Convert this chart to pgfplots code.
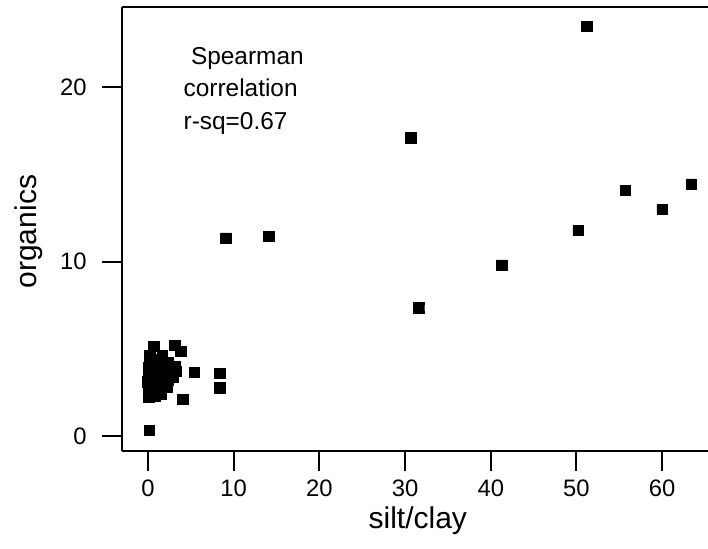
\documentclass[border=0pt]{standalone}
\usepackage{pgfplots}
\pgfplotsset{compat=1.18}
\usepackage{fontspec}
\setmainfont{Liberation Sans}

% filled square with softly rounded corners
\pgfdeclareplotmark{rsquare}{%
  \pgfsetcornersarced{\pgfpoint{1.1pt}{1.1pt}}%
  \pgfpathmoveto{\pgfqpoint{\pgfplotmarksize}{0pt}}%
  \pgfpathlineto{\pgfqpoint{\pgfplotmarksize}{\pgfplotmarksize}}%
  \pgfpathlineto{\pgfqpoint{-\pgfplotmarksize}{\pgfplotmarksize}}%
  \pgfpathlineto{\pgfqpoint{-\pgfplotmarksize}{-\pgfplotmarksize}}%
  \pgfpathlineto{\pgfqpoint{\pgfplotmarksize}{-\pgfplotmarksize}}%
  \pgfpathclose
  \pgfusepathqfillstroke
}

\begin{document}
\begin{tikzpicture}
\begin{axis}[
  scale only axis,
  width=293.15pt, height=222pt,
  xmin=-3.07, xmax=65.35,
  ymin=-0.86, ymax=24.61,
  axis x line=box, axis y line=left,
  axis line style={line width=1pt, -},
  every tick/.style={black, line width=1pt},
  xtick={0,10,...,60}, ytick={0,10,20},
  xtick pos=lower, ytick pos=left,
  tick align=outside,
  major tick length=10pt,
  minor tick num=0,
  /pgf/number format/assume math mode=true,
  tick label style={font=\fontsize{11.9}{14}\selectfont},
  yticklabel style={xshift=-4pt},
  xticklabel style={yshift=-1pt},
  xlabel={silt/clay}, ylabel={organics},
  label style={font=\fontsize{15}{18}\selectfont},
  xlabel style={at={(axis description cs:0.505,-0.174)}, anchor=base},
  ylabel style={at={(axis description cs:-0.1453,0.494)}, anchor=base, rotate=0},
  clip=false,
]
% soil samples: silt/clay ratio against organic content
\addplot[only marks, mark=rsquare, mark size=2.6pt,
  mark options={fill=black, draw=black, line width=0.4pt}]
  table[row sep=\\] {
  x y \\
  51.2 23.5 \\ 30.7 17.1 \\ 9.1 11.35 \\ 14.1 11.45 \\ 31.6 7.35 \\
  41.3 9.8 \\ 50.2 11.8 \\ 55.7 14.1 \\ 60.0 13.0 \\ 63.4 14.45 \\
  5.4 3.65 \\ 8.4 3.58 \\ 8.4 2.77 \\ 4.05 2.1 \\ 3.85 4.84 \\
  3.15 5.2 \\ 0.7 5.15 \\ 0.15 0.33 \\
  0.1 2.2 \\ 0.2 2.4 \\ 0.1 2.7 \\ 0.3 3.0 \\ 0.1 3.3 \\ 0.2 3.6 \\
  0.1 3.9 \\ 0.3 4.2 \\ 0.2 4.6 \\ 0.0 3.1 \\ 0.4 2.5 \\
  0.6 2.8 \\ 0.8 3.2 \\ 0.7 3.5 \\ 0.9 3.8 \\ 0.6 4.1 \\ 1.0 4.4 \\
  0.8 2.3 \\ 1.1 2.6 \\ 1.2 3.0 \\
  1.4 3.3 \\ 1.5 3.7 \\ 1.6 4.0 \\ 1.3 4.3 \\ 1.8 3.5 \\ 1.9 2.9 \\
  1.5 2.4 \\ 1.7 4.6 \\
  2.1 3.8 \\ 2.3 3.2 \\ 2.4 4.2 \\ 2.6 3.6 \\ 2.2 2.8 \\ 2.8 3.9 \\
  2.9 3.4 \\ 3.2 4.0 \\ 3.3 3.7 \\
  };
\node[anchor=base west, inner sep=0pt, font=\fontsize{12.2}{14}\selectfont]
  at (axis cs:4.98,21.29) {Spearman};
\node[anchor=base west, inner sep=0pt, font=\fontsize{12.2}{14}\selectfont]
  at (axis cs:4.12,19.47) {correlation};
\node[anchor=base west, inner sep=0pt, font=\fontsize{12.2}{14}\selectfont]
  at (axis cs:4.12,17.56) {r-sq=0.67};
\coordinate (bbsw) at (rel axis cs:-0.2076,-0.2185);
\coordinate (bbne) at (rel axis cs:1,1.0158);
\end{axis}
\pgfresetboundingbox
\path[use as bounding box] (bbsw) rectangle (bbne);
\end{tikzpicture}
\end{document}
